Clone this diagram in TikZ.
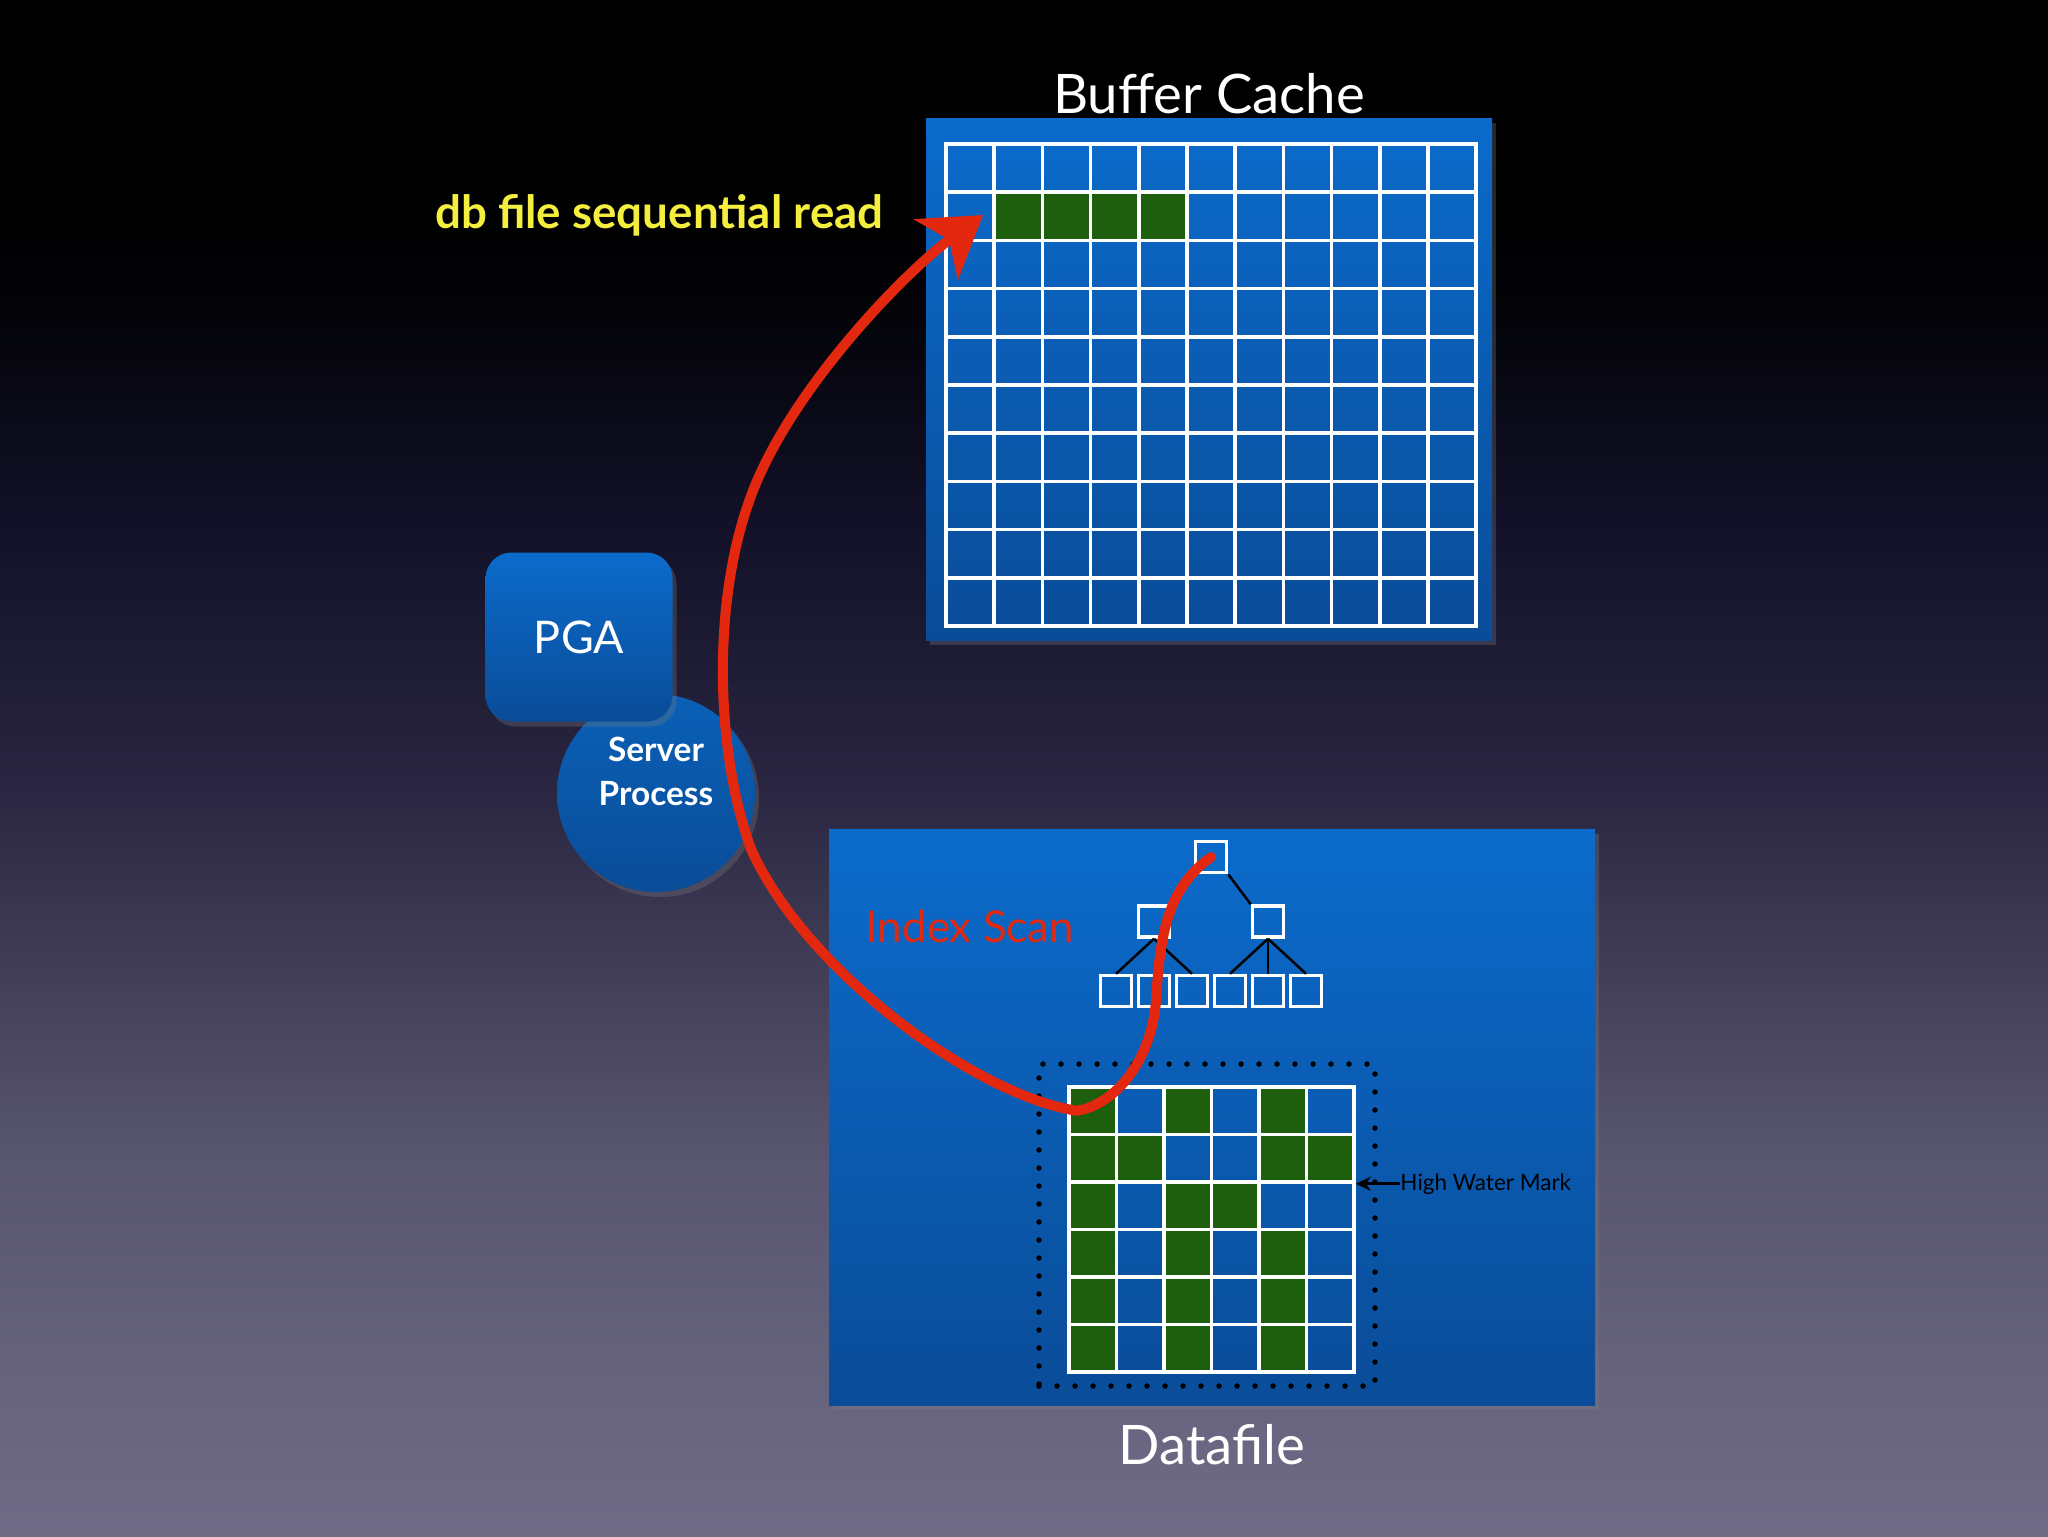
\documentclass[tikz,border=0pt]{standalone}
\usepackage{fontspec}
\setmainfont{Lato}
\usetikzlibrary{positioning,arrows.meta,shadows}
\definecolor{bgbottom}{HTML}{706C87}
\definecolor{bglow}{HTML}{58556F}
\definecolor{bgmid}{HTML}{28243F}
\definecolor{bghigh}{HTML}{121128}
\definecolor{bgtop}{HTML}{030308}
\definecolor{paneltop}{HTML}{0B6BCB}
\definecolor{panelbot}{HTML}{0A4C98}
\definecolor{blockgreen}{HTML}{1E5F0E}
\definecolor{readred}{HTML}{E3280F}
\definecolor{seqyellow}{HTML}{F4EE3E}
\pgfdeclareverticalshading{slidebg}{100bp}{color(0bp)=(bgbottom); color(25bp)=(bgbottom); color(37.5bp)=(bglow); color(50bp)=(bgmid); color(58bp)=(bghigh); color(65bp)=(bgtop); color(68.5bp)=(black); color(100bp)=(black)}

\begin{document}
\begin{tikzpicture}[
  x=0.1mm, y=-0.1mm,
  panel/.style={rectangle, inner sep=0pt, top color=paneltop, bottom color=panelbot, drop shadow={shadow xshift=0.4mm, shadow yshift=-0.5mm, opacity=0.3}},
  cell/.style={draw=white, line width=0.35mm, inner sep=0pt, minimum size=4.82mm},
  datacell/.style={cell, minimum size=4.75mm},
  treebox/.style={draw=white, line width=0.35mm, inner sep=0pt, minimum size=3.1mm},
  treeedge/.style={black, line width=0.25mm},
  title/.style={text=white, inner sep=0pt, font=\fontsize{15.5pt}{18pt}\selectfont},
  pgabox/.style={rectangle, rounded corners=2.6mm, top color=paneltop, bottom color=panelbot, text=white, minimum width=18.7mm, minimum height=16.9mm, font=\fontsize{12.8pt}{15pt}\selectfont, drop shadow={shadow xshift=0.4mm, shadow yshift=-0.5mm, opacity=0.3}},
  procbox/.style={circle, top color=paneltop!90!black, bottom color=panelbot, minimum size=19.8mm, inner sep=0pt, drop shadow={shadow xshift=0.4mm, shadow yshift=-0.5mm, opacity=0.3}},
  proctext/.style={text=white, align=center, inner sep=0pt, font=\bfseries\fontsize{9.5pt}{12.5pt}\selectfont},
  seqlabel/.style={text=seqyellow, inner sep=0pt, font=\bfseries\fontsize{13pt}{15pt}\selectfont},
  scanlabel/.style={text=readred, inner sep=0pt, font=\fontsize{12.5pt}{15pt}\selectfont},
  hwmlabel/.style={text=black, inner sep=0pt, font=\fontsize{6.4pt}{8pt}\selectfont},
  dotbox/.style={draw=black, line width=0.55mm, line cap=round, dash pattern=on 0pt off 1.8mm, inner sep=0pt},
  readpath/.style={draw=readred, line width=1mm, line cap=round, line join=round, -{Stealth[length=5.8mm, width=7.4mm, inset=1.6mm]}},
  hwmarrow/.style={black, line width=0.3mm, -{Stealth[length=1.5mm, width=1.4mm]}}
]
\path[use as bounding box] (0,0) rectangle (2048,1536);
\shade[shading=slidebg] (0,0) rectangle (2048,1536);

% buffer cache
\node[panel, minimum width=56.6mm, minimum height=52.2mm] (bcpanel) at (1209,379) {};
\node[title, above=0.3mm of bcpanel] (bctitle) {Buffer Cache};
\foreach \c in {1,...,11} \foreach \r in {1,...,10} {
  \pgfmathtruncatemacro{\hit}{(\r==2) && (\c>1) && (\c<6)}
  \ifnum\hit=1 \def\cellfill{blockgreen}\else\def\cellfill{none}\fi
  \node[cell, fill=\cellfill] (bc-\c-\r) at ({946+48.2*(\c-0.5)}, {144+48.2*(\r-0.5)}) {};
}

% datafile
\node[panel, minimum width=76.6mm, minimum height=57.6mm] (dfpanel) at (1212,1117) {};
\node[title, below=1.8mm of dfpanel] (dftitle) {Datafile};
\node[dotbox, minimum width=33.6mm, minimum height=32.2mm] (hwmbox) at (1207,1225) {};
\foreach \r/\row in {1/{1,0,1,0,1,0}, 2/{1,1,0,0,1,1}, 3/{1,0,1,1,0,0}, 4/{1,0,1,0,1,0}, 5/{1,0,1,0,1,0}, 6/{1,0,1,0,1,0}} {
  \foreach \g [count=\c] in \row {
    \ifnum\g=1 \def\cellfill{blockgreen}\else\def\cellfill{none}\fi
    \node[datacell, fill=\cellfill] (df-\c-\r) at ({1069+47.5*(\c-0.5)}, {1087+47.5*(\r-0.5)}) {};
  }
}
\node[hwmlabel, anchor=west, right=4.4mm of df-6-2.south east] (hwm) {High Water Mark};
\draw[hwmarrow] (hwm.west) -- (df-6-2.south east);

% index tree
\foreach \i in {1,...,6}
  \node[treebox] (leaf\i) at ({1116+38*(\i-1)}, 991) {};
\node[treebox, above=3.5mm of leaf2] (midl) {};
\node[treebox, above=3.5mm of leaf5] (midr) {};
\node[treebox] (root) at (1211,857) {};
\draw[treeedge] (root.south west) -- (midl.north east);
\draw[treeedge] (root.south east) -- (midr.north west);
\draw[treeedge] (midl.south) -- (leaf1.north);
\draw[treeedge] (midl.south) -- (leaf3.north);
\foreach \i in {4,5,6}
  \draw[treeedge] (midr.south) -- (leaf\i.north);
\node[scanlabel] (scan) at (970,926) {Index Scan};

% server process
\node[procbox] (proc) at (656,793) {};
\node[proctext] (proclabel) at ([yshift=2.2mm]proc.center) {Server\\Process};
\node[pgabox] (pga) at (579,637) {PGA};

% the read
\coordinate (readtip) at (983,215);
\node[seqlabel, left=9.9mm of readtip] (seqread) {db file sequential read};
\draw[readpath] (root.center) .. controls (1165,890) and (1160,940) .. (1156,1000)
  .. controls (1152,1060) and (1115,1105) .. ([xshift=-1.6mm]df-1-1.center)
  .. controls (975,1095) and (805,970) .. (751,849)
  .. controls (715,750) and (712,600) .. (751,496)
  .. controls (790,390) and (905,272) .. (readtip);
\end{tikzpicture}
\end{document}
